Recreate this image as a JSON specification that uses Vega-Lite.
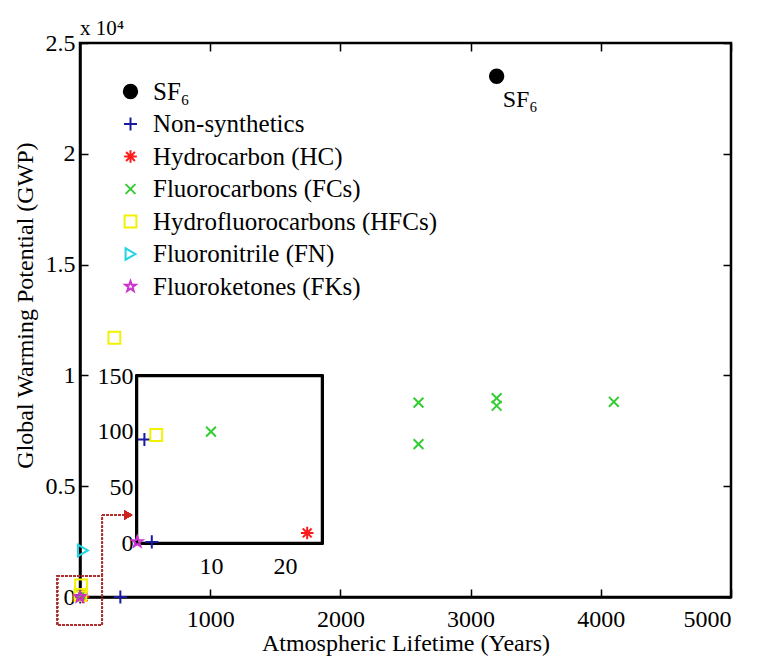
{
  "$schema": "https://vega.github.io/schema/vega-lite/v6.json",
  "width": 651,
  "height": 554,
  "autosize": {"type": "none"},
  "padding": {"left": 80, "top": 43, "right": 29, "bottom": 65},
  "background": "white",
  "title": {"text": "x 10⁴", "anchor": "start", "frame": "group", "font": "Liberation Serif", "fontSize": 21, "fontWeight": "normal", "color": "black", "offset": -8},
  "config": {
    "view": {"stroke": "black", "strokeWidth": 2.5},
    "axis": {"labelFont": "Liberation Serif", "titleFont": "Liberation Serif", "labelColor": "black", "titleColor": "black", "domainColor": "black", "grid": false, "labelFontSize": 24, "titleFontSize": 24, "titleFontWeight": "normal", "domainWidth": 2.5, "zindex": 1}
  },
  "datasets": {
    "gases": [
      {"group": "SF₆", "life": 3200, "gwp": 23500},
      {"group": "Non-synthetics", "life": 1, "gwp": 93},
      {"group": "Non-synthetics", "life": 2, "gwp": 1},
      {"group": "Non-synthetics", "life": 310, "gwp": 1},
      {"group": "Hydrocarbon (HC)", "life": 23, "gwp": 9},
      {"group": "Fluorocarbons (FCs)", "life": 2600, "gwp": 8770},
      {"group": "Fluorocarbons (FCs)", "life": 2600, "gwp": 6900},
      {"group": "Fluorocarbons (FCs)", "life": 3200, "gwp": 8970},
      {"group": "Fluorocarbons (FCs)", "life": 3200, "gwp": 8630},
      {"group": "Fluorocarbons (FCs)", "life": 4100, "gwp": 8810},
      {"group": "Fluorocarbons (FCs)", "life": 10, "gwp": 100},
      {"group": "Hydrofluorocarbons (HFCs)", "life": 264, "gwp": 11700},
      {"group": "Hydrofluorocarbons (HFCs)", "life": 8, "gwp": 520},
      {"group": "Hydrofluorocarbons (HFCs)", "life": 2.6, "gwp": 97},
      {"group": "Fluoronitrile (FN)", "life": 22, "gwp": 2100},
      {"group": "Fluoroketones (FKs)", "life": 0.04, "gwp": 1}
    ]
  },
  "data": {"name": "gases"},
  "layer": [
    {
      "mark": {"type": "point", "filled": false, "strokeWidth": 2, "opacity": 1},
      "encoding": {
        "x": {"field": "life", "type": "quantitative", "scale": {"domain": [0, 5000], "nice": false, "zero": false},
          "axis": {"orient": "bottom", "values": [1000, 2000, 3000, 4000, 5000], "format": "d", "ticks": false, "labelPadding": 10, "grid": true, "gridColor": "black", "gridOpacity": 1, "gridWidth": 1.5, "gridDash": [8, 538, 8, 100], "title": "Atmospheric Lifetime (Years)", "titleY": 53, "titleBaseline": "alphabetic"}},
        "y": {"field": "gwp", "type": "quantitative", "scale": {"domain": [0, 25000], "nice": false, "zero": false},
          "axis": {"orient": "left", "values": [0, 5000, 10000, 15000, 20000, 25000], "labelExpr": "format(datum.value/10000, '~g')", "ticks": false, "labelPadding": 5, "grid": true, "gridColor": "black", "gridOpacity": 1, "gridWidth": 1.5, "gridDash": [8, 635, 8, 100], "title": "Global Warming Potential (GWP)", "titleX": -55, "titleY": 262, "titleAngle": -90, "titleAlign": "center", "titleBaseline": "middle"}},
        "color": {"field": "group", "type": "nominal",
          "scale": {"domain": ["SF₆", "Non-synthetics", "Hydrocarbon (HC)", "Fluorocarbons (FCs)", "Hydrofluorocarbons (HFCs)", "Fluoronitrile (FN)", "Fluoroketones (FKs)"],
            "range": ["#000000", "#1a1aa0", "#ff1a1a", "#33cc33", "#f2f200", "#20d4e0", "#cc33cc"]},
          "legend": {"title": null, "orient": "none", "legendX": 38, "legendY": 36, "padding": 0, "labelFont": "Liberation Serif", "labelFontSize": 25, "labelColor": "black", "labelLimit": 400, "labelOffset": 10, "rowPadding": 6.5, "symbolStrokeWidth": 2}},
        "fill": {"field": "group", "type": "nominal",
          "scale": {"domain": ["SF₆", "Non-synthetics", "Hydrocarbon (HC)", "Fluorocarbons (FCs)", "Hydrofluorocarbons (HFCs)", "Fluoronitrile (FN)", "Fluoroketones (FKs)"],
            "range": ["#000000", "transparent", "transparent", "transparent", "transparent", "transparent", "transparent"]},
          "legend": {"title": null, "orient": "none", "legendX": 38, "legendY": 36, "padding": 0, "labelFont": "Liberation Serif", "labelFontSize": 25, "labelColor": "black", "labelLimit": 400, "labelOffset": 10, "rowPadding": 6.5, "symbolStrokeWidth": 2}},
        "shape": {"field": "group", "type": "nominal",
          "scale": {"domain": ["SF₆", "Non-synthetics", "Hydrocarbon (HC)", "Fluorocarbons (FCs)", "Hydrofluorocarbons (HFCs)", "Fluoronitrile (FN)", "Fluoroketones (FKs)"],
            "range": ["circle", "M-1,0H1M0,-1V1", "M-1,0H1M0,-1V1M-0.7,-0.7L0.7,0.7M-0.7,0.7L0.7,-0.7", "M-0.8,-0.8L0.8,0.8M-0.8,0.8L0.8,-0.8", "square", "triangle-right", "M0,-1L0.235,-0.324L0.951,-0.309L0.38,0.124L0.588,0.809L0,0.4L-0.588,0.809L-0.38,0.124L-0.951,-0.309L-0.235,-0.324Z"]},
          "legend": {"title": null, "orient": "none", "legendX": 38, "legendY": 36, "padding": 0, "labelFont": "Liberation Serif", "labelFontSize": 25, "labelColor": "black", "labelLimit": 400, "labelOffset": 10, "rowPadding": 6.5, "symbolStrokeWidth": 2}},
        "size": {"field": "group", "type": "nominal",
          "scale": {"domain": ["SF₆", "Non-synthetics", "Hydrocarbon (HC)", "Fluorocarbons (FCs)", "Hydrofluorocarbons (HFCs)", "Fluoronitrile (FN)", "Fluoroketones (FKs)"],
            "range": [180, 120, 110, 100, 85, 95, 110]},
          "legend": {"title": null, "orient": "none", "legendX": 38, "legendY": 36, "padding": 0, "labelFont": "Liberation Serif", "labelFontSize": 25, "labelColor": "black", "labelLimit": 400, "labelOffset": 10, "rowPadding": 6.5, "symbolStrokeWidth": 2}}
      }
    },
    {
      "mark": {"type": "text", "align": "left", "baseline": "top", "dx": 6, "dy": 12, "font": "Liberation Serif", "fontSize": 24, "fontWeight": "normal", "color": "black", "text": "SF₆"},
      "transform": [{"filter": "datum.group == 'SF₆'"}],
      "encoding": {
        "x": {"field": "life", "type": "quantitative", "scale": {"domain": [0, 5000], "nice": false, "zero": false}, "axis": null},
        "y": {"field": "gwp", "type": "quantitative", "scale": {"domain": [0, 25000], "nice": false, "zero": false}, "axis": null}
      }
    },
    {
      "mark": {"type": "rect", "fill": "transparent", "stroke": "#b03030", "strokeDash": [2, 2], "strokeWidth": 1.5},
      "encoding": {
        "x": {"datum": -174, "type": "quantitative", "scale": {"domain": [0, 5000], "nice": false, "zero": false}, "axis": null},
        "x2": {"datum": 171},
        "y": {"datum": -1264, "type": "quantitative", "scale": {"domain": [0, 25000], "nice": false, "zero": false}, "axis": null},
        "y2": {"datum": 961}
      }
    },
    {
      "mark": {"type": "rule", "stroke": "#b03030", "strokeDash": [2, 2], "strokeWidth": 1.5},
      "encoding": {
        "x": {"datum": 171, "type": "quantitative", "scale": {"domain": [0, 5000], "nice": false, "zero": false}, "axis": null},
        "y": {"datum": 961, "type": "quantitative", "scale": {"domain": [0, 25000], "nice": false, "zero": false}, "axis": null},
        "y2": {"datum": 3700}
      }
    },
    {
      "mark": {"type": "rule", "stroke": "#b03030", "strokeDash": [2, 2], "strokeWidth": 1.5},
      "encoding": {
        "x": {"datum": 171, "type": "quantitative", "scale": {"domain": [0, 5000], "nice": false, "zero": false}, "axis": null},
        "x2": {"datum": 340},
        "y": {"datum": 3700, "type": "quantitative", "scale": {"domain": [0, 25000], "nice": false, "zero": false}, "axis": null}
      }
    },
    {
      "mark": {"type": "point", "shape": "triangle-right", "filled": true, "color": "#d02020", "size": 90, "opacity": 1},
      "encoding": {
        "x": {"datum": 370, "type": "quantitative", "scale": {"domain": [0, 5000], "nice": false, "zero": false}, "axis": null},
        "y": {"datum": 3700, "type": "quantitative", "scale": {"domain": [0, 25000], "nice": false, "zero": false}, "axis": null}
      }
    },
    {
      "mark": {"type": "rect", "fill": "white", "stroke": "black", "strokeWidth": 2.5},
      "encoding": {
        "x": {"datum": 0, "type": "quantitative", "scale": {"domain": [0, 25], "range": [57, 242], "nice": false, "zero": false}, "axis": null},
        "x2": {"datum": 25},
        "y": {"datum": 0, "type": "quantitative", "scale": {"domain": [0, 150], "range": [500, 333], "nice": false, "zero": false}, "axis": null},
        "y2": {"datum": 150}
      }
    },
    {
      "mark": {"type": "point", "filled": false, "strokeWidth": 2, "opacity": 1},
      "transform": [{"filter": "datum.life <= 25 && datum.gwp <= 150"}],
      "encoding": {
        "x": {"field": "life", "type": "quantitative", "scale": {"domain": [0, 25], "range": [57, 242], "nice": false, "zero": false},
          "axis": {"orient": "bottom", "offset": -54, "values": [10, 20], "ticks": false, "labelPadding": 11, "title": null}},
        "y": {"field": "gwp", "type": "quantitative", "scale": {"domain": [0, 150], "range": [500, 333], "nice": false, "zero": false},
          "axis": {"orient": "left", "offset": -57, "values": [0, 50, 100, 150], "ticks": false, "labelPadding": 4, "title": null}},
        "color": {"field": "group", "type": "nominal"},
        "fill": {"field": "group", "type": "nominal"},
        "shape": {"field": "group", "type": "nominal"},
        "size": {"field": "group", "type": "nominal"}
      }
    }
  ],
  "resolve": {"scale": {"x": "independent", "y": "independent"}, "axis": {"x": "independent", "y": "independent"}}
}
